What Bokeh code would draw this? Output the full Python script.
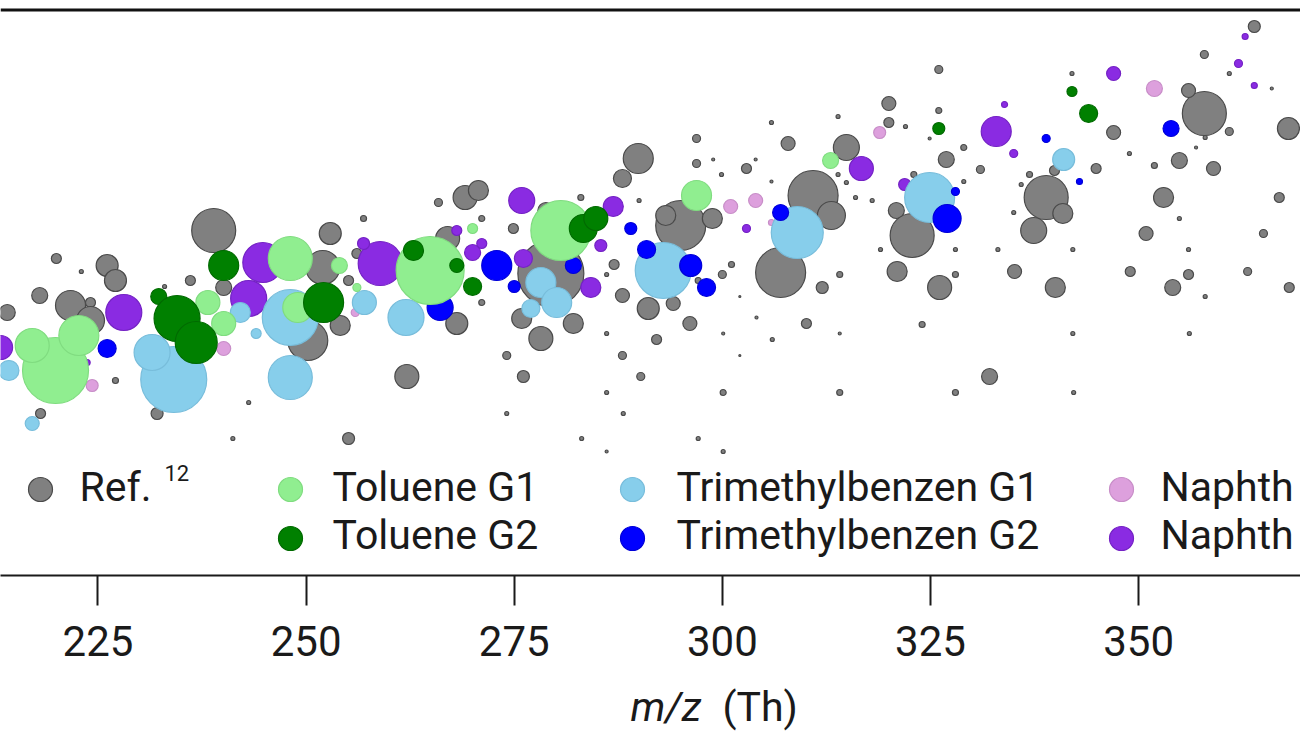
from bokeh.plotting import figure
from bokeh.models import Range1d, FixedTicker, Span, ColumnDataSource
from bokeh.layouts import column
from bokeh.core.properties import value
from bokeh.embed import file_html
from bokeh.resources import INLINE

# ---------------- data (m/z, y value, signal) ----------------
ref_mz = [214.1, 218.0, 220.0, 223.0, 226.1, 227.1, 224.1, 221.7, 224.1, 218.1,
          227.1, 232.1, 240.1, 236.1, 233.0, 238.9, 252.9, 256.9, 252.0, 250.2,
          254.1, 243.1, 241.2, 255.1, 262.1, 255.1, 256.1, 265.9, 269.1, 270.7,
          283.0, 289.9, 288.0, 296.9, 296.9, 298.9, 299.9, 304.0, 302.9, 305.9,
          307.9, 313.9, 314.9, 305.9, 313.9, 314.9, 316.0, 310.9, 313.1, 290.0,
          295.0, 293.2, 298.8, 274.9, 267.0, 271.1, 278.8, 268.1, 271.1, 279.4,
          275.9, 282.1, 278.2, 274.1, 276.1, 274.1, 283.1, 286.1, 286.1, 287.0,
          286.1, 288.0, 288.0, 290.2, 286.1, 288.1, 291.1, 294.1, 292.1, 296.1,
          297.1, 300.0, 301.1, 307.0, 312.0, 310.1, 314.1, 306.0, 304.1, 302.1,
          300.1, 314.1, 302.1, 300.1, 314.1, 297.1, 300.1, 363.9, 357.9, 360.9,
          366.0, 342.0, 326.0, 320.0, 326.0, 320.0, 322.0, 324.9, 329.0, 326.9,
          347.0, 339.9, 344.9, 348.9, 336.9, 335.9, 338.9, 340.9, 337.4, 331.0,
          329.0, 318.0, 323.0, 320.9, 322.8, 335.0, 354.9, 359.0, 357.9, 356.0,
          360.9, 356.9, 358.0, 368.0, 351.9, 353.0, 354.9, 366.9, 350.9, 365.0,
          319.0, 328.0, 333.1, 342.1, 356.0, 321.0, 328.0, 335.1, 326.1, 340.0,
          349.0, 356.0, 363.1, 354.1, 358.0, 368.1, 324.0, 342.1, 356.1, 332.1,
          328.0, 342.2]
ref_y = [26.3, 28.0, 31.7, 30.4, 31.0, 29.5, 27.3, 27.0, 25.5, 16.2,
         19.5, 16.2, 28.8, 29.5, 28.9, 34.5, 34.2, 35.7, 30.8, 23.5,
         25.0, 17.3, 13.7, 13.7, 19.9, 29.5, 32.2, 37.3, 37.8, 38.5,
         37.8, 41.7, 39.7, 43.7, 41.2, 41.6, 40.1, 41.6, 40.7, 45.3,
         43.2, 45.9, 42.8, 39.4, 40.1, 39.3, 37.8, 38.0, 36.0, 37.5,
         35.0, 36.0, 35.7, 34.7, 33.7, 35.7, 36.5, 25.2, 27.3, 30.2,
         25.7, 25.2, 23.7, 22.0, 19.9, 16.2, 13.7, 12.4, 24.2, 31.1,
         30.1, 28.0, 22.0, 19.9, 18.3, 16.2, 26.7, 27.2, 23.6, 25.2,
         29.5, 30.1, 31.1, 30.3, 28.8, 25.2, 30.1, 23.6, 25.8, 27.9,
         24.2, 24.2, 22.0, 18.3, 18.3, 13.7, 12.4, 54.9, 52.1, 50.2,
         48.7, 50.2, 50.6, 47.2, 46.5, 45.3, 44.9, 43.7, 42.8, 41.6,
         44.3, 40.5, 40.7, 42.2, 40.1, 39.1, 37.8, 36.2, 34.5, 40.6,
         39.4, 37.5, 40.1, 36.5, 34.0, 36.3, 41.5, 40.7, 46.2, 48.5,
         44.4, 42.8, 43.8, 44.7, 41.0, 37.8, 35.7, 37.8, 34.2, 34.2,
         32.6, 32.6, 32.6, 32.6, 32.6, 30.4, 30.1, 30.4, 28.8, 28.8,
         30.4, 30.1, 30.4, 28.8, 27.9, 28.8, 25.1, 24.2, 24.2, 19.9,
         18.3, 18.3]
ref_signal = [8, 8, 5, 2, 11, 11, 5, 15, 14, 5,
              3, 6, 8, 5, 2, 22, 11, 3, 17, 20,
              10, 2, 2, 6, 12, 5, 5, 4, 12, 10,
              3, 15, 9, 4, 4, 1.5, 2, 1.5, 5, 2,
              7, 2, 13, 1.5, 2, 2, 2, 25, 14, 2,
              25, 10, 10, 5, 12, 3, 8, 11, 3, 33,
              10, 10, 12, 4, 6, 2, 2, 1.5, 2, 5,
              2, 7, 4, 4, 2, 2, 11, 7, 5, 7,
              3, 4, 3, 25, 6, 5, 3, 2, 1.5, 1,
              1.5, 1.5, 1, 3, 3, 2, 2, 6, 4, 2,
              1.5, 2, 4, 7, 3, 5, 2, 1.5, 3, 8,
              7, 5, 5, 2, 3, 2, 22, 10, 13, 4,
              2, 2, 3, 8, 22, 2, 8, 7, 22, 7,
              4, 1.5, 2, 11, 3, 10, 2, 5, 7, 4,
              2, 2, 2, 2, 2, 10, 3, 7, 12, 10,
              5, 5, 4, 8, 2, 5, 3, 2, 2, 8,
              3, 2]

tol1_mz = [219.9, 222.7, 217.1, 238.2, 240.1, 248.1, 249.0, 254.0, 256.1, 264.9,
           270.0, 280.6, 296.9, 313.0]
tol1_y = [20.5, 24.0, 23.0, 27.3, 25.2, 31.7, 26.8, 31.0, 28.8, 30.5,
          34.7, 34.5, 38.0, 41.5]
tol1_signal = [33, 20, 17, 12, 12, 22, 15, 8, 4, 34,
               5, 30, 15, 8]

tol2_mz = [232.3, 234.5, 236.8, 240.1, 252.1, 262.9, 268.1, 270.0, 283.3, 284.8,
           326.0, 342.0, 344.0]
tol2_y = [27.9, 25.7, 23.3, 31.0, 27.3, 32.5, 31.0, 28.9, 34.7, 35.7,
          44.7, 48.4, 46.2]
tol2_signal = [8, 23, 21, 15, 20, 10, 7, 9, 14, 12,
               6, 5, 9]

tmb1_mz = [214.3, 217.1, 234.1, 231.5, 242.1, 244.0, 248.1, 248.1, 257.0, 262.0,
           278.2, 280.1, 277.0, 292.9, 309.0, 324.9, 341.0]
tmb1_y = [20.5, 15.2, 19.6, 22.3, 26.3, 24.2, 25.8, 19.8, 27.3, 25.8,
          29.3, 27.3, 26.7, 30.5, 34.3, 37.8, 41.6]
tmb1_signal = [10, 7, 33, 18, 10, 5, 28, 22, 12, 18,
               15, 15, 9, 28, 26, 25, 11]

tmb2_mz = [226.1, 266.1, 272.9, 275.0, 282.1, 289.0, 290.9, 296.2, 298.1, 307.0,
           327.0, 328.0, 338.9, 342.9, 353.9]
tmb2_y = [22.7, 26.8, 31.0, 28.9, 31.0, 34.7, 32.6, 31.0, 28.8, 36.3,
          35.7, 38.4, 43.7, 39.4, 44.7]
tmb2_signal = [9, 13, 15, 6, 8, 6, 9, 11, 9, 8,
               14, 4, 4, 3, 8]

nap1_mz = [224.3, 240.1, 255.9, 301.0, 304.0, 305.9, 318.9, 351.9]
nap1_y = [19.0, 22.7, 26.3, 36.9, 37.5, 35.3, 44.3, 48.7]
nap1_signal = [6, 7, 4, 7, 7, 3, 6, 8]

nap2_mz = [213.3, 228.1, 223.7, 243.1, 244.8, 258.9, 256.9, 275.9, 270.0, 271.1,
           268.1, 276.1, 284.2, 285.4, 286.9, 302.9, 316.7, 321.9, 332.9, 333.9,
           335.0, 347.0, 362.0, 362.8, 363.9]
nap2_y = [22.8, 26.3, 21.3, 27.7, 31.3, 31.2, 33.2, 37.5, 32.3, 33.2,
          34.5, 31.7, 28.8, 33.0, 36.9, 34.7, 40.7, 39.1, 44.4, 47.1,
          42.2, 50.2, 51.2, 53.9, 49.0]
nap2_signal = [12, 18, 3, 18, 20, 22, 6, 13, 8, 5,
               5, 9, 10, 6, 10, 4, 12, 6, 15, 3,
               4, 7, 4, 3, 3]

x_ticks = [225, 250, 275, 300, 325, 350]
# legend labels as visible in the (cropped) figure
legend_labels = ["Ref.", "Toluene G1", "Toluene G2", "Trimethylbenzen G1",
                 "Trimethylbenzen G2", "Naphth", "Naphth"]
ref_citation = "12"
x_label_italic = "m/z"
x_label_unit = "(Th)"

# ---------------- styling ----------------
series = [
    # drawing order: reference first, then the groups
    (ref_mz, ref_y, ref_signal, "#808080", "#4a4a4a"),
    (nap2_mz, nap2_y, nap2_signal, "#8a2be2", "#7422c4"),
    (nap1_mz, nap1_y, nap1_signal, "#dda0dd", "#c88ec8"),
    (tmb1_mz, tmb1_y, tmb1_signal, "#87ceeb", "#78bddb"),
    (tmb2_mz, tmb2_y, tmb2_signal, "#0000ff", "#0000d8"),
    (tol1_mz, tol1_y, tol1_signal, "#90ee90", "#80dc80"),
    (tol2_mz, tol2_y, tol2_signal, "#008000", "#006a00"),
]
legend_colors = [("#808080", "#4a4a4a"), ("#90ee90", "#80dc80"), ("#008000", "#006a00"),
                 ("#87ceeb", "#78bddb"), ("#0000ff", "#0000d8"), ("#dda0dd", "#c88ec8"),
                 ("#8a2be2", "#7422c4")]
SIZE_SCALE = 2.0
TEXT = "#1a1a1a"

W = 1300
FRAME_H = 575
MAIN_H = 677
LABEL_H = 54
X0, X1 = 213.29, 369.45
Y0, Y1 = 0.0, 57.5

x_range = Range1d(X0, X1)
p = figure(width=W, height=MAIN_H, x_range=x_range, y_range=Range1d(Y0, Y1),
           y_axis_location=None, toolbar_location=None, output_backend="svg",
           min_border_left=0, min_border_right=0, min_border_top=0,
           min_border_bottom=MAIN_H - FRAME_H)
p.outline_line_color = None
p.grid.grid_line_color = None
p.background_fill_color = "white"
p.border_fill_color = "white"


def px2x(px):
    return X0 + px * (X1 - X0) / W


def py2y(py):
    return Y1 - py * (Y1 - Y0) / FRAME_H


for mz, yy, sig, fill, line in series:
    src = ColumnDataSource(dict(x=mz, y=yy, s=[SIZE_SCALE * v for v in sig]))
    p.scatter("x", "y", size="s", source=src, fill_color=fill, line_color=line,
              line_width=1.2)

# top frame line
p.add_layout(Span(location=py2y(9.5), dimension="width", line_color="#111111",
                  line_width=3))

# x axis
ax = p.xaxis[0]
ax.ticker = FixedTicker(ticks=x_ticks)
ax.major_label_text_font = "Roboto"
ax.major_label_text_font_size = "42px"
ax.major_label_text_color = TEXT
ax.axis_line_width = 2
ax.axis_line_color = TEXT
ax.major_tick_line_width = 2
ax.major_tick_line_color = TEXT
ax.major_tick_out = 30
ax.major_tick_in = 0
ax.minor_tick_line_color = None
ax.major_label_standoff = 20

# legend (inside plot, bottom)
marker_px = [40, 290, 290, 632, 632, 1121, 1121]
text_px = [79, 332, 332, 676, 676, 1160, 1160]
rows = [0, 0, 1, 0, 1, 0, 1]
marker_py = [489, 538]
text_py = [486, 534]
leg_src = ColumnDataSource(dict(
    x=[px2x(v) for v in marker_px],
    y=[py2y(marker_py[r]) for r in rows],
    fill=[c[0] for c in legend_colors],
    line=[c[1] for c in legend_colors],
))
p.scatter("x", "y", source=leg_src, size=24, fill_color="fill", line_color="line",
          line_width=1.2)
txt_src = ColumnDataSource(dict(
    x=[px2x(v) for v in text_px],
    y=[py2y(text_py[r]) for r in rows],
    t=legend_labels,
))
p.text("x", "y", text="t", source=txt_src, text_font=value("Roboto"),
       text_font_size=value("41px"), text_color=TEXT, text_baseline="middle",
       text_align="left")
p.text(x=[px2x(164)], y=[py2y(472)], text=[ref_citation], text_font=value("Roboto"),
       text_font_size=value("22px"), text_color=TEXT, text_baseline="middle",
       text_align="left")

# axis title strip (italic m/z + upright unit), sharing the x range
q = figure(width=W, height=LABEL_H, x_range=x_range, y_range=Range1d(0, LABEL_H),
           x_axis_location=None, y_axis_location=None, toolbar_location=None,
           output_backend="svg", min_border_left=0, min_border_right=0,
           min_border_top=0, min_border_bottom=0)
q.outline_line_color = None
q.grid.grid_line_color = None
q.border_fill_color = "white"
mid = MAIN_H + LABEL_H - 706
q.text(x=[px2x(630)], y=[mid], text=[x_label_italic], text_font=value("Roboto"),
       text_font_style="italic", text_font_size=value("41px"), text_color=TEXT,
       text_baseline="middle", text_align="left")
q.text(x=[px2x(722)], y=[mid], text=[x_label_unit], text_font=value("Roboto"),
       text_font_size=value("41px"), text_color=TEXT,
       text_baseline="middle", text_align="left")

layout = column(p, q, spacing=0)
open("out.html", "w").write(file_html(layout, INLINE))
